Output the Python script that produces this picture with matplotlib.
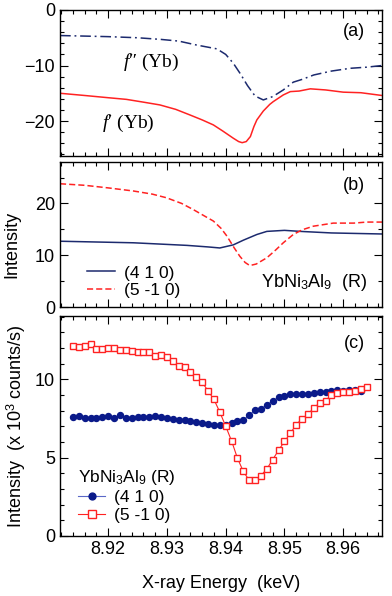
import matplotlib
matplotlib.use("Agg")
import matplotlib.pyplot as plt
from matplotlib.ticker import MultipleLocator

plt.rcParams['font.family'] = ['Liberation Sans', 'DejaVu Sans']
plt.rcParams['mathtext.fontset'] = 'custom'
plt.rcParams['mathtext.rm'] = 'Liberation Sans'
plt.rcParams['mathtext.it'] = 'Liberation Serif:italic'

NAVY = '#0a1a8a'
NAVY_LINE = '#1c2a6e'
RED = '#ff2222'

# (a) anomalous scattering factors
fpp_e = [8.9118, 8.9160, 8.9200, 8.9250, 8.9290, 8.9320, 8.9350, 8.9385, 8.9400,
         8.9413, 8.9425, 8.9437, 8.9450, 8.9464, 8.9480, 8.9498, 8.9515, 8.9530,
         8.9550, 8.9580, 8.9612, 8.9640, 8.9666]
fpp = [-4.6, -4.7, -4.8, -5.0, -5.3, -5.6, -6.3, -7.0, -8.0,
       -9.6, -11.5, -13.6, -15.5, -16.2, -15.6, -14.4, -13.0, -12.5,
       -11.7, -11.0, -10.5, -10.3, -10.0]
fp_e = [8.9118, 8.9160, 8.9200, 8.9231, 8.9260, 8.9288, 8.9315, 8.9339, 8.9360,
        8.9379, 8.9395, 8.9413, 8.9422, 8.9428, 8.9435, 8.9442, 8.9448, 8.9453,
        8.9464, 8.9475, 8.9481, 8.9498, 8.9510, 8.9525, 8.9544, 8.9570, 8.9600,
        8.9630, 8.9666]
fp = [-15.0, -15.4, -15.8, -16.1, -16.6, -17.1, -17.9, -18.9, -19.8,
      -20.7, -21.8, -23.1, -23.7, -23.9, -23.7, -22.8, -21.0, -19.8,
      -18.2, -17.0, -16.5, -15.3, -14.7, -14.6, -14.2, -14.4, -14.8,
      -14.9, -15.4]

# (b) calculated intensities
calc410_e = [8.9118, 8.9243, 8.9334, 8.9370, 8.9390, 8.9413, 8.9430, 8.9453,
             8.9470, 8.9500, 8.9527, 8.9580, 8.9666]
calc410 = [12.7, 12.4, 11.9, 11.6, 11.4, 12.0, 12.9, 14.0,
           14.6, 14.8, 14.6, 14.3, 14.1]
calc5m10_e = [8.9118, 8.9160, 8.9200, 8.9243, 8.9275, 8.9299, 8.9325, 8.9345,
              8.9365, 8.9379, 8.9392, 8.9402, 8.9414, 8.9424, 8.9433, 8.9441,
              8.9452, 8.9470, 8.9485, 8.9498, 8.9515, 8.9530, 8.9549, 8.9583,
              8.9618, 8.9640, 8.9666]
calc5m10 = [23.8, 23.5, 23.0, 22.4, 21.8, 21.1, 20.0, 18.8,
            17.5, 16.6, 15.2, 13.7, 11.5, 9.8, 8.6, 8.0,
            8.3, 9.5, 11.0, 12.4, 14.0, 14.9, 15.6, 16.2,
            16.2, 16.4, 16.4]

# (c) measured intensities (x 10^3 counts/s)
energy = [8.914, 8.915, 8.916, 8.917, 8.918, 8.919, 8.920, 8.921, 8.922, 8.923,
          8.924, 8.925, 8.926, 8.927, 8.928, 8.929, 8.930, 8.931, 8.932, 8.933,
          8.934, 8.935, 8.936, 8.937, 8.938, 8.939, 8.940, 8.941, 8.942, 8.943,
          8.944, 8.945, 8.946, 8.947, 8.948, 8.949, 8.950, 8.951, 8.952, 8.953,
          8.954, 8.955, 8.956, 8.957, 8.958, 8.959, 8.960, 8.961, 8.962, 8.963,
          8.964]
obs410 = [7.57, 7.65, 7.55, 7.55, 7.55, 7.57, 7.65, 7.52, 7.72, 7.55,
          7.55, 7.57, 7.61, 7.59, 7.65, 7.61, 7.55, 7.50, 7.44, 7.40,
          7.35, 7.25, 7.22, 7.18, 7.12, 7.10, 7.10, 7.19, 7.33, 7.40,
          7.72, 8.04, 8.12, 8.36, 8.63, 8.85, 8.95, 9.06, 9.10, 9.10,
          9.10, 9.14, 9.19, 9.19, 9.27, 9.32, 9.27, 9.32, 9.30, 9.27]
obs5m10 = [12.11, 12.07, 12.13, 12.28, 11.94, 11.94, 11.98, 11.98, 11.89, 11.87,
           11.81, 11.72, 11.77, 11.72, 11.51, 11.58, 11.45, 11.19, 10.87, 10.81,
           10.49, 10.17, 9.81, 9.27, 8.72, 7.91, 7.01, 6.07, 4.97, 4.12,
           3.56, 3.56, 3.86, 4.28, 4.88, 5.48, 6.04, 6.55, 7.12, 7.48,
           7.78, 8.18, 8.50, 8.63, 9.00, 9.14, 9.17, 9.19, 9.27, 9.36,
           9.49]

fig = plt.figure(figsize=(3.92, 5.96), dpi=100)
left, width = 60 / 392, 322 / 392
ax_a = fig.add_axes([left, 1 - 156 / 596, width, 146 / 596])
ax_b = fig.add_axes([left, 1 - 307 / 596, width, 145 / 596])
ax_c = fig.add_axes([left, 1 - 536 / 596, width, 220 / 596])

for ax in (ax_a, ax_b, ax_c):
    ax.set_xlim(8.9118, 8.9666)
    ax.xaxis.set_major_locator(MultipleLocator(0.01))
    ax.xaxis.set_minor_locator(MultipleLocator(0.002))
    ax.tick_params(which='both', direction='in', top=True, right=True,
                   width=0.8, labelsize=13)
    ax.tick_params(which='major', length=6)
    ax.tick_params(which='minor', length=3)
    for s in ax.spines.values():
        s.set_linewidth(1.0)
ax_a.tick_params(labelbottom=False)
ax_b.tick_params(labelbottom=False)

# (a)
ax_a.plot(fpp_e, fpp, color=NAVY_LINE, lw=1.1, ls=(0, (7, 2.5, 1.2, 2.5)))
ax_a.plot(fp_e, fp, color=RED, lw=1.1)
ax_a.set_ylim(-26.3, 0)
ax_a.yaxis.set_major_locator(MultipleLocator(10))
ax_a.yaxis.set_minor_locator(MultipleLocator(2))
serif = ['Liberation Serif', 'DejaVu Serif']
ax_a.text(8.9225, -9.5, "$f$\u2033 (Yb)", family=serif, fontsize=14,
          va='center', ha='left')
ax_a.text(8.9189, -20.5, "$f$\u2032 (Yb)", family=serif, fontsize=14,
          va='center', ha='left')
ax_a.text(0.947, 0.85, "(a)", transform=ax_a.transAxes, ha='right',
          va='center', fontsize=13)

# (b)
ax_b.plot(calc410_e, calc410, color=NAVY_LINE, lw=1.1, label="(4 1 0)")
ax_b.plot(calc5m10_e, calc5m10, color=RED, lw=1.1, ls=(0, (4, 2)),
          label="(5 -1 0)")
ax_b.set_ylim(0, 28)
ax_b.yaxis.set_major_locator(MultipleLocator(10))
ax_b.yaxis.set_minor_locator(MultipleLocator(5))
ax_b.set_ylabel("Intensity", fontsize=13)
ax_b.yaxis.set_label_coords(-0.122, 0.43)
ax_b.text(0.953, 0.166, r"YbNi$_3$Al$_9$  (R)", transform=ax_b.transAxes,
          ha='right', va='center', fontsize=13)
ax_b.text(0.947, 0.84, "(b)", transform=ax_b.transAxes, ha='right',
          va='center', fontsize=13)
ax_b.legend(loc='lower left', bbox_to_anchor=(0.084, 0.06), frameon=False,
            fontsize=12.5, handlelength=1.6, handletextpad=0.5,
            labelspacing=0.15, borderpad=0, borderaxespad=0)

# (c)
ax_c.plot(energy[:len(obs410)], obs410, color='#5a68c8', lw=0.8, marker='o',
          ms=4.3, mfc=NAVY, mec=NAVY, label="(4 1 0)")
ax_c.plot(energy, obs5m10, color=RED, lw=0.8, marker='s', ms=4.5,
          mfc='white', mec=RED, mew=1.0, label="(5 -1 0)")
ax_c.set_ylim(0, 14.05)
ax_c.yaxis.set_major_locator(MultipleLocator(5))
ax_c.yaxis.set_minor_locator(MultipleLocator(1))
ax_c.set_ylabel("Intensity  (x 10$^3$ counts/s)", fontsize=13)
ax_c.yaxis.set_label_coords(-0.098, 0.5)
ax_c.set_xlabel("X-ray Energy  (keV)", fontsize=13, labelpad=12)
ax_c.text(0.947, 0.873, "(c)", transform=ax_c.transAxes, ha='right',
          va='center', fontsize=13)
ax_c.legend(loc='lower left', bbox_to_anchor=(0.055, 0.06), frameon=False,
            fontsize=12.5, title=r"YbNi$_3$Al$_9$ (R)", title_fontsize=12.5,
            alignment='left', handlelength=1.6, handletextpad=0.5,
            labelspacing=0.15, borderpad=0, borderaxespad=0, markerscale=1.15)

fig.savefig("out.png", dpi=100)
